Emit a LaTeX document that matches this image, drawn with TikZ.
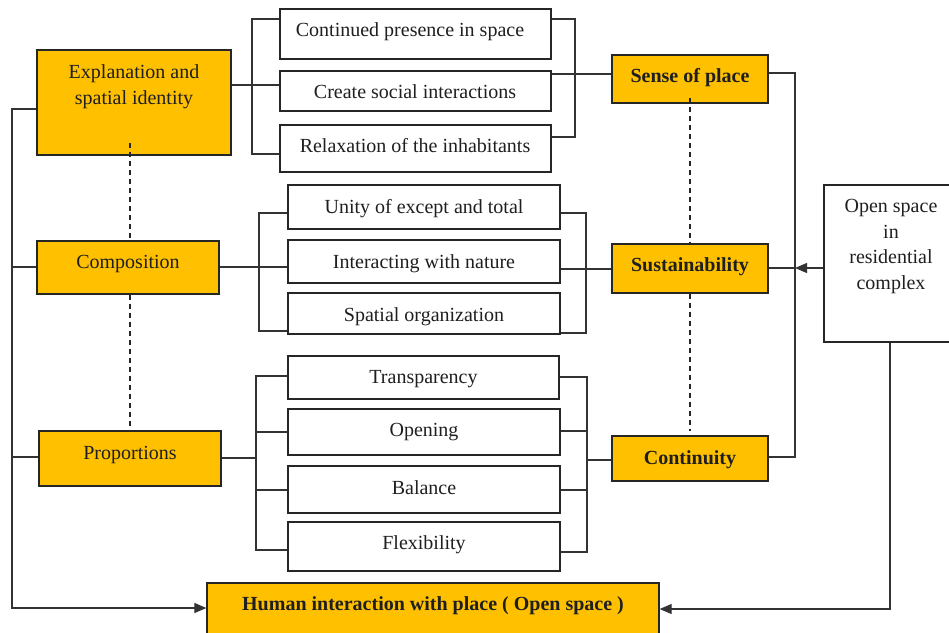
\documentclass[tikz,border=0pt]{standalone}
\usepackage{fontspec}
\setmainfont{Liberation Serif}
\usetikzlibrary{arrows.meta}
\definecolor{gold}{HTML}{FFC000}
\begin{document}
\begin{tikzpicture}[x=1pt,y=-1pt,
  box/.style={draw=black!85, line width=1.3pt, inner sep=0pt, anchor=center},
  obox/.style={box, fill=gold},
  wbox/.style={box, fill=white},
  txt/.style={font=\fontsize{20}{25.5}\selectfont, text=black!88, inner sep=0pt, align=center, yshift=-3pt},
  txtone/.style={txt, text height=14pt, text depth=4.4pt},
  btxt/.style={txtone, font=\fontsize{20}{25.5}\selectfont\bfseries},
  ln/.style={draw=black!80, line width=1.2pt},
  arr/.style={ln, -{Triangle[length=12pt,width=10pt]}},
  dsh/.style={draw=black!85, line width=1.2pt, dash pattern=on 5pt off 4pt},
]
\useasboundingbox (0,0) rectangle (949,632);

% ---- left column ----
\node[obox, minimum width=194pt, minimum height=105pt] (expl) at (134,102.5) {};
\node[obox, minimum width=182pt, minimum height=53pt] (comp) at (128,267.5) {};
\node[obox, minimum width=182pt, minimum height=55pt] (prop) at (130,458.5) {};
\node[txt] (expl-t) at (134,83.5) {Explanation and\\spatial identity};
\node[txtone] (comp-t) at (128,261) {Composition};
\node[txtone] (prop-t) at (130,452) {Proportions};

% ---- first group ----
\node[wbox, minimum width=271pt, minimum height=50pt] (c1) at (415.5,34) {};
\node[wbox, minimum width=271pt, minimum height=40pt] (c2) at (415.5,91) {};
\node[wbox, minimum width=271pt, minimum height=47pt] (c3) at (415.5,148.5) {};
\node[txtone] (c1-t) at (410,29) {Continued presence in space};
\node[txtone] (c2-t) at (415,91) {Create social interactions};
\node[txtone] (c3-t) at (415,145) {Relaxation of the inhabitants};

% ---- second group ----
\node[wbox, minimum width=272pt, minimum height=44pt] (u1) at (424,207) {};
\node[wbox, minimum width=272pt, minimum height=43pt] (u2) at (424,261.5) {};
\node[wbox, minimum width=272pt, minimum height=41pt] (u3) at (424,313.5) {};
\node[txtone] (u1-t) at (424,206) {Unity of except and total};
\node[txtone] (u2-t) at (424,261) {Interacting with nature};
\node[txtone] (u3-t) at (424,314) {Spatial organization};

% ---- third group ----
\node[wbox, minimum width=271pt, minimum height=43pt] (t1) at (423.5,377.5) {};
\node[wbox, minimum width=272pt, minimum height=46pt] (t2) at (424,432) {};
\node[wbox, minimum width=272pt, minimum height=47pt] (t3) at (424,489.5) {};
\node[wbox, minimum width=272pt, minimum height=49pt] (t4) at (424,546.5) {};
\node[txtone] (t1-t) at (423.5,376) {Transparency};
\node[txtone] (t2-t) at (424,429) {Opening};
\node[txtone] (t3-t) at (424,487) {Balance};
\node[txtone] (t4-t) at (424,542) {Flexibility};

% ---- right column ----
\node[obox, minimum width=156pt, minimum height=48pt] (sense) at (690,79) {};
\node[obox, minimum width=156pt, minimum height=49pt] (sust) at (690,268.5) {};
\node[obox, minimum width=156pt, minimum height=45pt] (cont) at (690,458.5) {};
\node[btxt] (sense-t) at (690,75) {Sense of place};
\node[btxt] (sust-t) at (690,264) {Sustainability};
\node[btxt] (cont-t) at (690,457) {Continuity};

\node[wbox, minimum width=140pt, minimum height=157pt] (open) at (894,263.5) {};
\node[txt] (open-t) at (891,243.5) {Open space\\in\\residential\\complex};

% ---- bottom ----
\node[obox, minimum width=452pt, minimum height=62pt] (human) at (433,614) {};
\node[btxt] (human-t) at (433,603) {Human interaction with place ( Open space )};

% ---- bend points ----
\coordinate (L1) at (12,109);  \coordinate (L2) at (12,267);
\coordinate (L3) at (12,457);  \coordinate (L4) at (12,608);
\coordinate (A1) at (252,19);  \coordinate (A2) at (252,154); \coordinate (A3) at (252,85);
\coordinate (B1) at (575,19);  \coordinate (B2) at (575,137); \coordinate (B3) at (575,74);
\coordinate (C1) at (259,213); \coordinate (C2) at (259,331); \coordinate (C3) at (259,267);
\coordinate (D1) at (586,213); \coordinate (D2) at (586,333); \coordinate (D3) at (586,269);
\coordinate (E1) at (256,376); \coordinate (E2) at (256,550); \coordinate (E3) at (256,432);
\coordinate (E4) at (256,490); \coordinate (E5) at (256,458);
\coordinate (F1) at (587,377); \coordinate (F2) at (587,552); \coordinate (F3) at (587,431);
\coordinate (F4) at (587,490); \coordinate (F5) at (587,460);
\coordinate (R1) at (795,73);  \coordinate (R2) at (795,457); \coordinate (R3) at (795,268);
\coordinate (S1) at (890,609);
\coordinate (d1) at (130,143); \coordinate (d2) at (690,98);  \coordinate (d3) at (690,431);

% ---- left bus ----
\draw[arr] (expl.west |- L1) -- (L1) -- (L4) -- (human.west |- L4);
\draw[ln] (L2) -- (comp.west |- L2);
\draw[ln] (L3) -- (prop.west |- L3);

% ---- first group brackets ----
\draw[ln] (c1.west |- A1) -- (A1) -- (A2) -- (c3.west |- A2);
\draw[ln] (expl.east |- A3) -- (c2.west |- A3);
\draw[ln] (c1.east |- B1) -- (B1) -- (B2) -- (c3.east |- B2);
\draw[ln] (c2.east |- B3) -- (sense.west |- B3);

% ---- second group brackets ----
\draw[ln] (u1.west |- C1) -- (C1) -- (C2) -- (u3.west |- C2);
\draw[ln] (comp.east |- C3) -- (u2.west |- C3);
\draw[ln] (u1.east |- D1) -- (D1) -- (D2) -- (u3.east |- D2);
\draw[ln] (u2.east |- D3) -- (sust.west |- D3);

% ---- third group brackets ----
\draw[ln] (t1.west |- E1) -- (E1) -- (E2) -- (t4.west |- E2);
\draw[ln] (E3) -- (t2.west |- E3);
\draw[ln] (E4) -- (t3.west |- E4);
\draw[ln] (prop.east |- E5) -- (E5);
\draw[ln] (t1.east |- F1) -- (F1) -- (F2) -- (t4.east |- F2);
\draw[ln] (t2.east |- F3) -- (F3);
\draw[ln] (t3.east |- F4) -- (F4);
\draw[ln] (F5) -- (cont.west |- F5);

% ---- right bus ----
\draw[ln] (sense.east |- R1) -- (R1) -- (R2) -- (cont.east |- R2);
\draw[ln] (sust.east |- R3) -- (R3);
\draw[arr] (open.west |- R3) -- (R3);
\draw[arr] (open.south -| S1) -- (S1) -- (human.east |- S1);

% ---- dashed links ----
\draw[dsh] (d1) -- (comp.north -| d1);
\draw[dsh] (comp.south -| d1) -- (prop.north -| d1);
\draw[dsh] (d2) -- (sust.north -| d2);
\draw[dsh] (sust.south -| d2) -- (d3);
\end{tikzpicture}
\end{document}
